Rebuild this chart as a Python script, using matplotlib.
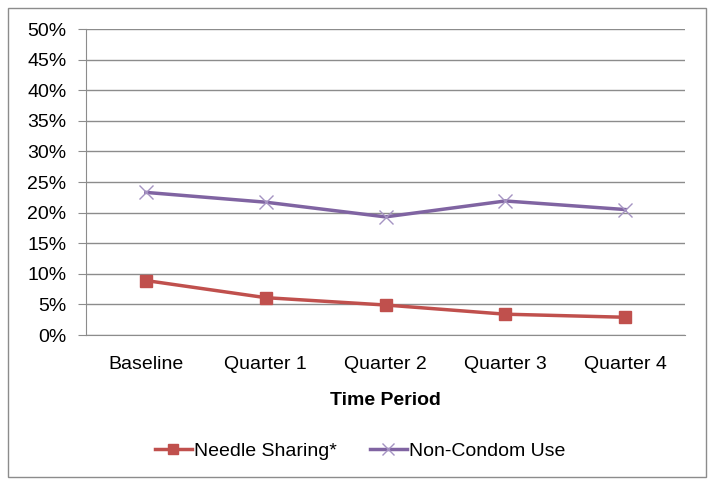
import matplotlib
matplotlib.use("Agg")
import matplotlib.pyplot as plt
from matplotlib.patches import Rectangle
from matplotlib.ticker import FuncFormatter

categories = ["Baseline", "Quarter 1", "Quarter 2", "Quarter 3", "Quarter 4"]
needle_sharing = [8.9, 6.1, 4.9, 3.4, 2.9]
non_condom = [23.3, 21.7, 19.3, 21.9, 20.5]

plt.rcParams['font.family'] = ['Liberation Sans', 'DejaVu Sans']

W, H = 714, 486
fig = plt.figure(figsize=(W/100, H/100), dpi=100)
fig.patch.set_facecolor('white')
fig.add_artist(Rectangle((8/W, 1-477/H), 698/W, 469/H, transform=fig.transFigure,
                         fill=False, edgecolor='#8c8c8c', linewidth=1.0))

ax = fig.add_axes([86/W, 1-335/H, 599/W, 306/H])
x = list(range(len(categories)))
ax.plot(x, needle_sharing, color='#c0504d', linewidth=2.5, marker='s', markersize=9,
        markerfacecolor='#c0504d', markeredgecolor='#c0504d', label='Needle Sharing*')
ax.plot(x, non_condom, color='#8064a2', linewidth=2.5, marker='x', markersize=10,
        markeredgewidth=1.0, markeredgecolor='#a593c2', label='Non-Condom Use')

ax.set_xlim(-0.5, len(categories) - 0.5)
ax.set_ylim(0, 50)
ax.set_yticks(range(0, 51, 5))
ax.yaxis.set_major_formatter(FuncFormatter(lambda v, p: f"{int(v)}%"))
ax.set_xticks(x)
ax.set_xticklabels(categories)
ax.grid(axis='y', color='#8c8c8c', linewidth=1.0)
ax.set_axisbelow(True)
for s in ['top', 'right']:
    ax.spines[s].set_visible(False)
ax.spines['left'].set_color('#8c8c8c')
ax.spines['bottom'].set_color('#8c8c8c')
ax.tick_params(axis='y', length=6, color='#8c8c8c', labelsize=14, pad=8)
ax.tick_params(axis='x', length=0, labelsize=14, pad=15)
ax.set_xlabel("Time Period", fontsize=14, fontweight='bold', labelpad=14)

ax.legend(loc='center', bbox_to_anchor=((360-86)/599, (335-451)/306), ncol=2, frameon=False,
          fontsize=14, handlelength=1.9, handletextpad=0.1, columnspacing=1.7,
          markerscale=0.8)

fig.savefig("out.png", dpi=100)
